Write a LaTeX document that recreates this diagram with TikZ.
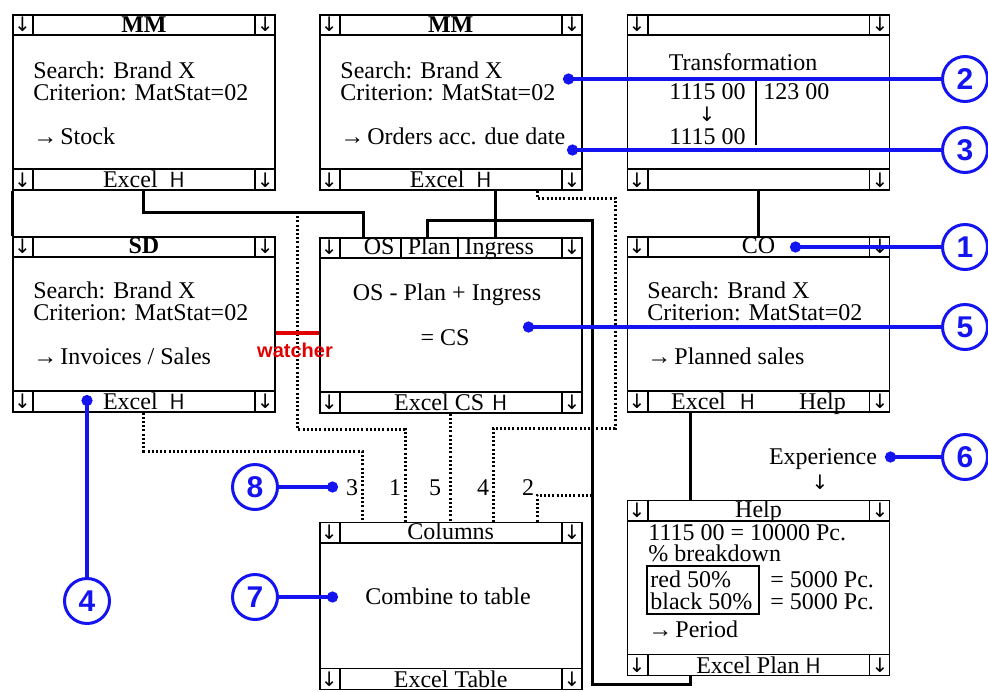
\documentclass[tikz,border=0pt]{standalone}
\usepackage{fontspec}
\setmainfont{Liberation Serif}
\newfontfamily\arialfont{Liberation Sans}
\newfontfamily\arrowfont{DejaVu Sans}
\usetikzlibrary{positioning,arrows.meta}
\definecolor{calblue}{HTML}{1414F0}
\definecolor{watchred}{HTML}{E00000}
\newcommand{\grip}{{\sffamily\fontsize{11}{11}\selectfont H}}
\newcommand{\dn}{{\arrowfont\fontsize{10}{10}\selectfont ↓}}
\newcommand{\rt}{→\kern1.5pt}
\newcommand{\winbars}[3]{%
  \draw[frame] ([yshift=-10.5pt]#1.north west) -- ([yshift=-10.5pt]#1.north east)
    ([yshift=11pt]#1.south west) -- ([yshift=11pt]#1.south east)
    ([xshift=10.5pt]#1.north west) -- ++(0,21)
    ([xshift=-10.5pt]#1.north east) -- ++(0,21)
    ([xshift=10.5pt]#1.south west) -- ++(0,-22)
    ([xshift=-10.5pt]#1.south east) -- ++(0,-22);
  \node[cell] (#1-tl) at ([shift={(5.25pt,-5.25pt)}]#1.north west) {\dn};
  \node[cell] (#1-tr) at ([shift={(-5.25pt,-5.25pt)}]#1.north east) {\dn};
  \node[cell] (#1-bl) at ([shift={(5.25pt,5.5pt)}]#1.south west) {\dn};
  \node[cell] (#1-br) at ([shift={(-5.25pt,5.5pt)}]#1.south east) {\dn};
  \node[bar] (#1-title) at ([yshift=-9pt]#1.north) {#2};
  \node[bar] (#1-foot) at ([yshift=1.5pt]#1.south) {#3};
}

\begin{document}
\begin{tikzpicture}[x=0.5pt, y=-0.5pt,
  win/.style={draw, line width=0.9pt, minimum width=131pt, minimum height=87.5pt, inner sep=0},
  frame/.style={line width=0.9pt},
  cell/.style={inner sep=0, font=\fontsize{12}{12}\selectfont},
  bar/.style={anchor=base, inner sep=0, font=\fontsize{12}{12}\selectfont},
  txt/.style={anchor=base west, inner sep=0, font=\fontsize{12}{12}\selectfont},
  ctr/.style={anchor=base, inner sep=0, font=\fontsize{12}{12}\selectfont},
  link/.style={line width=1.5pt},
  dots/.style={line width=1.5pt, dash pattern=on 1pt off 1.1pt},
  call/.style={draw=calblue, line width=1.7pt, {Circle[length=5.5pt]}-},
  num/.style={circle, draw=calblue, line width=1.5pt, minimum size=22.5pt, inner sep=0, text=calblue,
    font=\arialfont\bfseries\fontsize{15}{15}\selectfont},
  watch/.style={draw=watchred, line width=2.2pt}]
\useasboundingbox (0,0) rectangle (988,691);

\node[win, anchor=north west] (mmA) at (12,14) {};
\node[win, right=21.5pt of mmA] (mmB) {};
\node[win, right=22pt of mmB] (trans) {};
\node[win, below=22.5pt of mmA] (sd) {};
\node[win, below=23pt of mmB] (cs) {};
\node[win, below=22.5pt of trans] (co) {};
\node[win, below=54pt of cs, minimum height=83.5pt] (cols) {};
\node[win, below=43.5pt of co] (help) {};

\winbars{mmA}{\bfseries MM}{Excel\hspace{6pt}\grip}
\winbars{mmB}{\bfseries MM}{Excel\hspace{6pt}\grip}
\winbars{trans}{}{}
\winbars{sd}{\bfseries SD}{Excel\hspace{6pt}\grip}
\winbars{cs}{}{Excel CS\hspace{4pt}\grip\hspace{16pt}}
\winbars{co}{CO}{}
\winbars{cols}{Columns}{Excel Table}
\winbars{help}{Help}{Excel Plan\hspace{3pt}\grip}

\node[bar] (cs-os) at ([xshift=-35.75pt]cs-title) {OS};
\node[bar] (cs-plan) at ([xshift=-10.75pt]cs-title) {Plan};
\node[bar] (cs-in) at ([xshift=24.25pt]cs-title) {Ingress};
\draw[frame] ([xshift=-24.75pt]cs.north) -- ++(0,21);
\draw[frame] ([xshift=3.75pt]cs.north) -- ++(0,21);
\node[bar] (co-xl) at ([xshift=-30pt]co-foot) {Excel};
\node[bar] (co-grip) at ([xshift=-5.5pt]co-foot) {\grip};
\node[bar] (co-help) at ([xshift=32pt]co-foot) {Help};

\node[txt] (mmA-l1) at (33,78) {Search: Brand X};
\node[txt] (mmA-l2) at (33,100) {Criterion: MatStat=02};
\node[txt] (mmA-l3) at (33,144) {\rt Stock};
\node[txt] (mmB-l1) at (340,78) {Search: Brand X};
\node[txt] (mmB-l2) at (340,100) {Criterion: MatStat=02};
\node[txt] (mmB-l3) at (340,144) {\rt Orders acc. due date};
\node[ctr] (tr-head) at (743,70) {Transformation};
\node[txt] (tr-a) at (669,99) {1115 00};
\node[txt] (tr-b) at (763,99) {123 00};
\node[cell] (tr-arr) at (707,114) {\dn};
\node[txt] (tr-c) at (669,144) {1115 00};
\draw[frame] (756,80) -- (756,145);
\node[txt] (sd-l1) at (33,298) {Search: Brand X};
\node[txt] (sd-l2) at (33,320) {Criterion: MatStat=02};
\node[txt] (sd-l3) at (33,364) {\rt Invoices / Sales};
\node[ctr] (cs-l1) at (447,300) {OS - Plan + Ingress};
\node[ctr] (cs-l2) at (445,345) {= CS};
\node[txt] (co-l1) at (647,298) {Search: Brand X};
\node[txt] (co-l2) at (647,320) {Criterion: MatStat=02};
\node[txt] (co-l3) at (647,364) {\rt Planned sales};
\node[ctr] (cols-l1) at (448,604) {Combine to table};
\node[txt] (help-l1) at (648,540) {1115 00 = 10000 Pc.};
\node[txt] (help-l2) at (648,561) {\% breakdown};
\node[draw, line width=0.9pt, minimum width=56pt, minimum height=24pt, anchor=north west, inner sep=0] (mix) at (646,565) {};
\node[txt] (mix-r) at (650,587) {red 50\%};
\node[txt] (mix-b) at (650,609) {black 50\%};
\node[txt] (eq-r) at (770,587) {= 5000 Pc.};
\node[txt] (eq-b) at (770,609) {= 5000 Pc.};
\node[txt] (help-l3) at (648,637) {\rt Period};
\node[ctr] (exp) at (823,464) {Experience};
\node[cell] (exp-arr) at (820,482) {\dn};

\node[ctr] (col3) at (352,495) {3};
\node[ctr] (col1) at (395,495) {1};
\node[ctr] (col5) at (435,495) {5};
\node[ctr] (col4) at (483,495) {4};
\node[ctr] (col2) at (528,495) {2};

\coordinate (k1) at (363,212);
\coordinate (k2) at (495,220);
\coordinate (k3) at (427,220);
\coordinate (k4) at (592,684);
\coordinate (k5) at (690,684);
\draw[link] (mmA.south west) -- (sd.north west);
\draw[link] (mmA.south) |- (k1) -- (k1 |- cs.north);
\draw[link] (mmB.south -| k2) -- (k2 |- cs.north);
\draw[link] (k3 |- cs.north) -- (k3) -| (k4) -- (k5) -- (k5 |- help.south);
\draw[link] (trans.south) -- (co.north);
\draw[link] (co.south -| k5) -- (help.north -| k5);

\coordinate (w0) at (297,212);
\coordinate (c3) at (362,451);
\coordinate (c1) at (405,429);
\coordinate (c4a) at (537,198);
\coordinate (c4b) at (615,428);
\coordinate (c4) at (493,428);
\coordinate (c2) at (537,495);
\draw[dots] (sd.south) |- (c3) -- (c3 |- cols.north);
\draw[dots] (w0) |- (c1) -- (c1 |- cols.north);
\draw[dots] (cs.south) -- (cs.south |- cols.north);
\draw[dots] (mmB.south -| c4a) -- (c4a) -| (c4b) -- (c4) -- (c4 |- cols.north);
\draw[dots] (c2 |- cols.north) -- (c2) -- (c2 -| k4);

\coordinate (wt) at (295,333);
\draw[watch] (wt -| sd.east) -- (wt -| cs.west);
\node[inner sep=0, text=watchred, font=\arialfont\bfseries\fontsize{10}{10}\selectfont] (wlabel) at (295,350) {watcher};

\node[num] (n1) at (965,247) {1};
\node[num] (n2) at (965,79) {2};
\node[num] (n3) at (965,150) {3};
\node[num] (n4) at (87,601) {4};
\node[num] (n5) at (965,327) {5};
\node[num] (n6) at (965,457) {6};
\node[num] (n7) at (255,597) {7};
\node[num] (n8) at (255,487) {8};
\coordinate (p1) at (790,247);
\coordinate (p2) at (563,79);
\coordinate (p3) at (567,150);
\coordinate (p4) at (87,395);
\coordinate (p5) at (523,327);
\coordinate (p6) at (885,457);
\coordinate (p7) at (338,597);
\coordinate (p8) at (338,487);
\draw[call] (p1) -- (n1);
\draw[call] (p2) -- (n2);
\draw[call] (p3) -- (n3);
\draw[call] (p4) -- (n4);
\draw[call] (p5) -- (n5);
\draw[call] (p6) -- (n6);
\draw[call] (p7) -- (n7);
\draw[call] (p8) -- (n8);
\end{tikzpicture}
\end{document}
